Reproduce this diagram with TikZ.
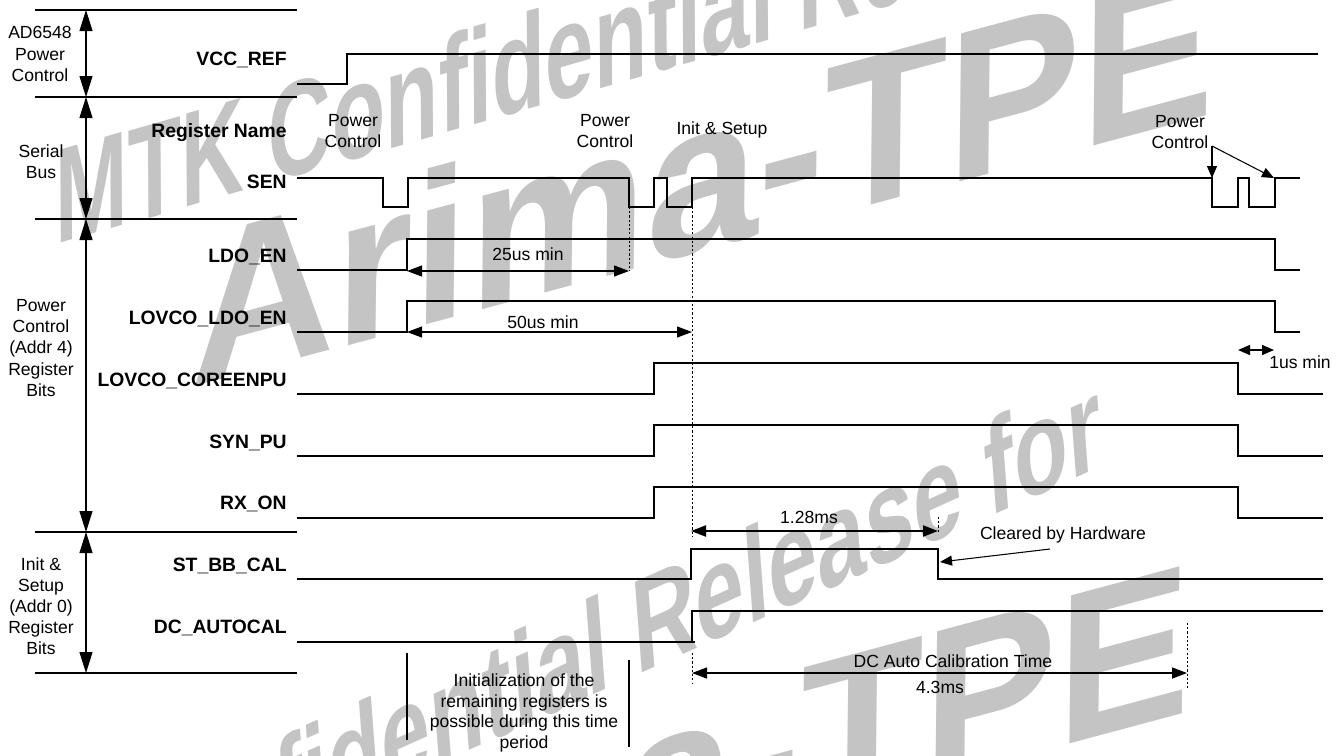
\documentclass[tikz,border=0pt]{standalone}
\usepackage{fontspec}
\setmainfont{Liberation Sans}
\usetikzlibrary{arrows.meta}

\tikzset{
  wave/.style={line width=1.2pt,line join=miter},
  sepline/.style={line width=0.6pt},
  dimarrow/.style={line width=0.6pt,{Triangle[length=0.3cm,width=0.22cm]}-{Triangle[length=0.3cm,width=0.22cm]}},
  grouparrow/.style={line width=0.6pt,{Triangle[length=0.42cm,width=0.26cm]}-{Triangle[length=0.42cm,width=0.26cm]}},
  ptrarrow/.style={line width=0.6pt,-{Triangle[length=0.24cm,width=0.2cm]}},
  dotline/.style={line width=0.5pt,dash pattern=on 1.2pt off 1.2pt},
  signame/.style={anchor=base east,inner sep=0pt,font=\fontsize{11}{13}\selectfont\bfseries},
  grouplabel/.style={align=center,inner sep=0pt,font=\fontsize{10}{12}\selectfont},
  note/.style={align=center,inner sep=0pt,font=\fontsize{10}{11.6}\selectfont},
  wmark/.style={text=black!23,inner sep=0pt,rotate=16,xslant=0.28,xscale=0.7,
                font=\fontsize{74}{74}\selectfont\bfseries},
  wmarkbig/.style={text=black!23,inner sep=0pt,rotate=15,xslant=0.28,xscale=1.0,
                font=\fontsize{118}{118}\selectfont\bfseries}
}

\begin{document}
\begin{tikzpicture}[x=0.02cm,y=-0.02cm]
  \useasboundingbox (0,0) rectangle (1337,755);
  % watermark behind everything
  \begin{scope}
    \clip (0,0) rectangle (1337,755);
    \node[wmark,anchor=base west] (wmA) at (55,245) {MTK Confidential Release for};
    \node[wmarkbig,anchor=base west] (wmB) at (190,388) {Arima-TPE};
    \node[wmark,rotate=6,anchor=base east] (wmC) at (1105,465) {MTK Confidential Release for};
    \node[wmarkbig,anchor=base east] (wmD) at (1190,712) {Arima-TPE};
  \end{scope}

  % group separators and spans
  \draw[sepline] (35,10) -- (297,10);
  \draw[sepline] (35,97) -- (297,97);
  \draw[sepline] (35,219) -- (297,219);
  \draw[sepline] (35,532) -- (297,532);
  \draw[sepline] (35,673) -- (297,673);
  \draw[grouparrow] (86,10) -- (86,97);
  \draw[grouparrow] (86,97) -- (86,219);
  \draw[grouparrow] (86,219) -- (86,532);
  \draw[grouparrow] (86,532) -- (86,673);

  \node[grouplabel] (gPwr) at (40,54) {AD6548\\Power\\Control};
  \node[grouplabel] (gSer) at (41,162) {Serial\\Bus};
  \node[grouplabel] (gAddr4) at (41,348) {Power\\Control\\(Addr 4)\\Register\\Bits};
  \node[grouplabel] (gAddr0) at (41,606) {Init \&\\Setup\\(Addr 0)\\Register\\Bits};

  % signal names
  \node[signame] (nVCC) at (287,65) {VCC\_REF};
  \node[signame] (nReg) at (287,137) {Register Name};
  \node[signame] (nSEN) at (287,188) {SEN};
  \node[signame] (nLDO) at (287,262) {LDO\_EN};
  \node[signame] (nLVLDO) at (287,324) {LOVCO\_LDO\_EN};
  \node[signame] (nLVCORE) at (287,386) {LOVCO\_COREENPU};
  \node[signame] (nSYN) at (287,448) {SYN\_PU};
  \node[signame] (nRX) at (287,509) {RX\_ON};
  \node[signame] (nSTBB) at (287,571) {ST\_BB\_CAL};
  \node[signame] (nDCA) at (287,633) {DC\_AUTOCAL};

  % waveforms
  \draw[wave] (297,84) -- (347,84) -- (347,54) -- (1318,54);
  \draw[wave] (297,178) -- (383,178) -- (383,207) -- (408,207) -- (408,178)
    -- (629,178) -- (629,207) -- (654,207) -- (654,178) -- (667,178) -- (667,207)
    -- (692,207) -- (692,178) -- (1212,178) -- (1212,207) -- (1238,207)
    -- (1238,178) -- (1249,178) -- (1249,207) -- (1275,207) -- (1275,178) -- (1300,178);
  \draw[wave] (297,270) -- (407,270) -- (407,239) -- (1275,239) -- (1275,270) -- (1300,270);
  \draw[wave] (297,332) -- (407,332) -- (407,301) -- (1275,301) -- (1275,332) -- (1300,332);
  \draw[wave] (297,394) -- (654,394) -- (654,363) -- (1238,363) -- (1238,394) -- (1323,394);
  \draw[wave] (297,456) -- (654,456) -- (654,425) -- (1238,425) -- (1238,456) -- (1323,456);
  \draw[wave] (297,518) -- (654,518) -- (654,487) -- (1238,487) -- (1238,518) -- (1323,518);
  \draw[wave] (297,579) -- (691,579) -- (691,549) -- (938,549) -- (938,579) -- (1323,579);
  \draw[wave] (297,642) -- (695,642);
  \draw[wave] (692,642) -- (692,611) -- (1323,611);

  % annotations over the serial bus
  \node[note] (pcA) at (353,131) {Power\\Control};
  \node[note] (pcB) at (605,131) {Power\\Control};
  \node[note] (initA) at (722,130) {Init \& Setup};
  \node[note] (pcC) at (1180,132) {Power\\Control};
  \coordinate (pcCtip) at (1212,146);
  \coordinate (senFall) at (1212,178);
  \coordinate (senRise) at (1274,178);
  \draw[ptrarrow] (pcCtip) -- (senFall);
  \draw[ptrarrow] (pcCtip) -- (senRise);

  % timing references
  \coordinate (tA) at (407,271);
  \coordinate (tB) at (629,271);
  \coordinate (tC) at (407,332);
  \coordinate (tD) at (692,332);
  \draw[dotline] (629,207) -- (tB);
  \draw[dotline] (692,207) -- (692,537);
  \draw[dotline] (938,517) -- (938,533);
  \draw[dotline] (692,653) -- (692,683);
  \draw[dotline] (1187,623) -- (1187,688);
  \draw[dimarrow] (tA) -- (tB);
  \draw[dimarrow] (tC) -- (tD);
  \node[note] (t25) at (528,254) {25us min};
  \node[note] (t50) at (543,322) {50us min};

  \coordinate (calA) at (691,531);
  \coordinate (calB) at (938,531);
  \draw[dimarrow,line width=1.2pt] (calA) -- (calB);
  \node[note] (t128) at (809,517) {1.28ms};

  \node[note] (clr) at (1063,535) {Cleared by Hardware};
  \coordinate (clrFrom) at (1050,549);
  \coordinate (clrTo) at (940,562);
  \draw[ptrarrow] (clrFrom) -- (clrTo);

  \coordinate (dcA) at (692,673);
  \coordinate (dcB) at (1187,673);
  \draw[dimarrow,line width=0.8pt] (dcA) -- (dcB);
  \node[note] (tDC) at (953,661) {DC Auto Calibration Time};
  \node[note] (t43) at (940,687) {4.3ms};

  \coordinate (offA) at (1238,350);
  \coordinate (offB) at (1274,350);
  \draw[line width=0.8pt,{Triangle[length=0.24cm,width=0.2cm]}-{Triangle[length=0.24cm,width=0.2cm]}] (offA) -- (offB);
  \node[note] (t1us) at (1300,362) {1us min};

  % init window
  \draw[sepline] (407,653) -- (407,740);
  \draw[sepline] (629,660) -- (629,747);
  \node[note] (initNote) at (524,713) {Initialization of the\\remaining registers is\\possible during this time\\period};
\end{tikzpicture}
\end{document}
